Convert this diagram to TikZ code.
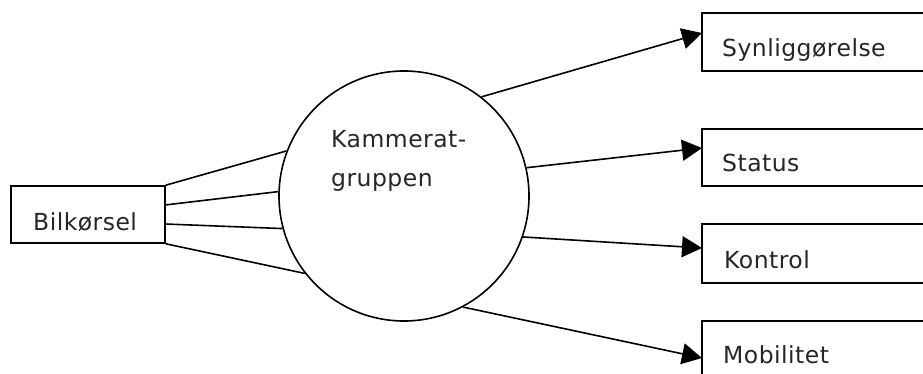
\documentclass[tikz,border=0pt]{standalone}
\usepackage{fontspec}
\setmainfont{DejaVu Sans}[LetterSpace=2]
\usetikzlibrary{arrows.meta}
\begin{document}
\begin{tikzpicture}[x=1pt,y=-1pt,
  ln/.style={line width=1.6pt,black},
  boxn/.style={draw,line width=1.6pt,rectangle,inner sep=0pt},
  txt/.style={anchor=base west,inner sep=0pt,font=\fontsize{23.5}{28}\selectfont,text=black!85},
  arr/.style={ln,-{Triangle[length=20pt,width=21pt]}}]
\useasboundingbox (0,0) rectangle (923,374);
\clip (0,0) rectangle (923,374);
\fill[white] (0,0) rectangle (923,374);
% nodes
\node[boxn,minimum width=154pt,minimum height=57pt] (bil) at (88,214.5) {};
\node[draw,circle,line width=1.6pt,minimum size=250pt,inner sep=0pt] (circ) at (404,196) {};
\node[boxn,minimum width=240pt,minimum height=58pt] (syn) at (822,42) {};
\node[boxn,minimum width=240pt,minimum height=57pt] (sta) at (822,157.5) {};
\node[boxn,minimum width=240pt,minimum height=59pt] (kon) at (822,253.5) {};
\node[boxn,minimum width=240pt,minimum height=59pt] (mob) at (822,350.5) {};
% texts
\node[txt] (tbil) at (33,230) {Bilkørsel};
\node[txt] (tk1) at (331,148) {Kammerat-};
\node[txt] (tk2) at (331,186) {gruppen};
\node[txt] (tsyn) at (722,57) {Synliggørelse};
\node[txt] (tsta) at (722,172) {Status};
\node[txt] (tkon) at (724,268) {Kontrol};
\node[txt] (tmob) at (723,363) {Mobilitet};
% connector points
\coordinate (b2) at (165,205);
\coordinate (b3) at (165,224);
\coordinate (a1) at (702,33);
\coordinate (a2) at (702,148);
\coordinate (a3) at (702,248);
\coordinate (a4) at (702,358);
% left connectors
\draw[ln] (bil.north east) -- (circ.159);
\draw[ln] (b2) -- (circ.178.6);
\draw[ln] (b3) -- (circ.195.8);
\draw[ln] (bil.south east) -- (circ.218);
% right arrows
\draw[arr] (circ.52.7) -- (a1);
\draw[arr] (circ.13) -- (a2);
\draw[arr] (circ.-19.8) -- (a3);
\draw[arr] (circ.-62.4) -- (a4);
\end{tikzpicture}
\end{document}
